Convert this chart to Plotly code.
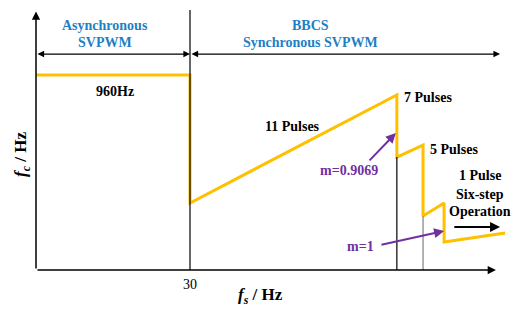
import plotly.graph_objects as go

# ---- data (schematic values) ----
fs = [0, 30, 30, 70.3, 70.3, 75.4, 75.4, 79.5, 79.5, 91.4]        # Hz
fc = [960, 960, 330, 862, 556, 615, 266, 330, 138, 182]           # Hz
tick_vals = [30]
tick_text = ["30"]
boundary_lines = [  # (fs, top fc, colour)
    (30, 1280, "black"),
    (70.3, 556, "black"),
    (75.4, 266, "#808080"),
]

ORANGE = "#FFC000"
BLUE = "#1F7FC4"
PURPLE = "#7030A0"
FONT = "Liberation Serif"

fig = go.Figure()
fig.add_trace(go.Scatter(x=fs, y=fc, mode="lines",
                         line=dict(color=ORANGE, width=3),
                         showlegend=False, hoverinfo="skip"))

for xv, top, col in boundary_lines:
    fig.add_trace(go.Scatter(x=[xv, xv], y=[0, top], mode="lines",
                             line=dict(color=col, width=1.2),
                             showlegend=False, hoverinfo="skip"))

anns = []

def arrow(x0, y0, x1, y1, color="black", width=1.5, both=False, size=1.0, head=2):
    a = dict(x=x1, y=y1, ax=x0, ay=y0, xref="x", yref="y", axref="x", ayref="y",
             text="", showarrow=True, arrowhead=head, arrowsize=size,
             arrowwidth=width, arrowcolor=color, standoff=0, startstandoff=0)
    if both:
        a["arrowside"] = "end+start"
        a["startarrowhead"] = head
        a["startarrowsize"] = size
    anns.append(a)

def label(x, y, txt, color="black", size=14, bold=True, xanchor="center"):
    anns.append(dict(x=x, y=y, xref="x", yref="y", text=(f"<b>{txt}</b>" if bold else txt),
                     showarrow=False, xanchor=xanchor, yanchor="middle",
                     font=dict(family=FONT, size=size, color=color)))

# axes with arrows
arrow(0, 0, 89.6, 0, width=1.5, size=1.1)
arrow(0, 0, 0, 1272, width=1.5, size=1.1)

# region arrows
arrow(0, 1063, 30, 1063, both=True, width=1.2, size=1.1)
arrow(30, 1063, 90.4, 1063, both=True, width=1.2, size=1.1)

label(13.4, 1206, "Asynchronous", BLUE)
label(13.4, 1122, "SVPWM", BLUE)
label(53.4, 1206, "BBCS", BLUE)
label(53.4, 1122, "Synchronous SVPWM", BLUE)

label(15.4, 881, "960Hz")
label(50.0, 704, "11 Pulses")
label(71.3, 847, "7 Pulses", xanchor="left")
label(76.4, 591, "5 Pulses", xanchor="left")
label(86.5, 463, "1 Pulse")
label(86.5, 374, "Six-step")
label(86.5, 290, "Operation")
arrow(81.2, 212, 90.4, 212, width=2, size=1.0)

label(61.0, 492, "m=0.9069", PURPLE)
arrow(64.7, 532, 70.1, 674, color=PURPLE, width=2, size=1.0)
label(63.3, 118, "m=1", PURPLE)
arrow(67.0, 123, 79.5, 192, color=PURPLE, width=2, size=1.0)

# axis titles
anns.append(dict(x=-0.0295, y=0.439, xref="paper", yref="paper",
                 text="<b><i>f</i><sub><i>c</i></sub> / Hz</b>",
                 textangle=-90, showarrow=False, xanchor="center", yanchor="middle",
                 font=dict(family=FONT, size=17, color="black")))
anns.append(dict(x=0.4726, y=-0.0992, xref="paper", yref="paper",
                 text="<b><i>f</i><sub><i>s</i></sub> / Hz</b>",
                 showarrow=False, xanchor="center", yanchor="middle",
                 font=dict(family=FONT, size=17, color="black")))

fig.update_layout(
    width=514, height=309,
    margin=dict(l=36, r=4, t=8, b=39),
    plot_bgcolor="white", paper_bgcolor="white",
    annotations=anns,
    xaxis=dict(range=[0, 92.34], showgrid=False, zeroline=False, showline=False,
               tickmode="array", tickvals=tick_vals, ticktext=tick_text, ticks="",
               tickfont=dict(family=FONT, size=14, color="black"), ticklabelstandoff=4),
    yaxis=dict(range=[0, 1289.8], showgrid=False, zeroline=False, showline=False,
               showticklabels=False, ticks=""),
)

fig.write_html("out.html", config={"displayModeBar": False},
               post_script="document.body.style.margin='0';document.body.style.overflow='hidden';")
